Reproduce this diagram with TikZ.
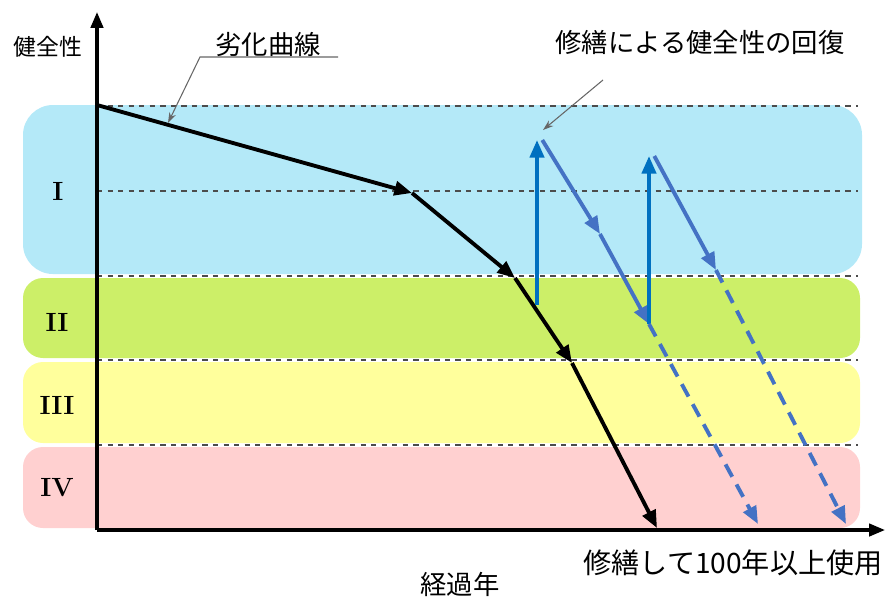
\documentclass[tikz,border=0pt]{standalone}
\usepackage{fontspec}
\newfontfamily\jp{Noto Sans CJK JP}
\usetikzlibrary{arrows.meta}
\definecolor{bandI}{RGB}{180,233,248}
\definecolor{bandII}{RGB}{204,239,104}
\definecolor{bandIII}{RGB}{255,255,156}
\definecolor{bandIV}{RGB}{255,208,208}
\definecolor{upblue}{RGB}{0,112,192}
\definecolor{downblue}{RGB}{68,114,196}

\begin{document}
\begin{tikzpicture}[x=0.02cm,y=-0.02cm,
    band/.style={rounded corners=0.4cm,draw=none},
    level/.style={draw=black!70,dashed,line width=0.6pt},
    axis/.style={line width=1.8pt,-{Triangle[length=9pt,width=7pt]}},
    curve/.style={line width=2.2pt,-{Triangle[length=10pt,width=8pt]}},
    upline/.style={draw=upblue,line width=2.2pt,-{Triangle[length=10pt,width=8pt]}},
    downline/.style={draw=downblue,line width=2.2pt,-{Triangle[length=10pt,width=8pt]}},
    future/.style={downline,dash pattern=on 8pt off 5pt},
    leader/.style={draw=black!60,line width=0.6pt,-{Stealth[length=6pt,width=4pt]}},
    jlabel/.style={font=\jp\fontsize{15}{15}\selectfont,inner sep=0pt},
    roman/.style={font=\bfseries\fontsize{15}{15}\selectfont,inner sep=0pt}]
    \useasboundingbox (0,0) rectangle (885,600);

    % bands
    \fill[band,bandI,rounded corners=0.6cm] (23,105) rectangle (862,274);
    \fill[band,bandII] (23,278) rectangle (860,358);
    \fill[band,bandIII] (23,362) rectangle (860,443);
    \fill[band,bandIV] (23,447) rectangle (860,528);
    \node[roman] (rI) at (58,191) {I};
    \node[roman] (rII) at (57,322) {II};
    \node[roman] (rIII) at (57,405) {III};
    \node[roman] (rIV) at (57,488) {IV};

    % levels
    \foreach \y in {106,191,276,360,445}
        \draw[level] (97,\y) -- (858,\y);

    % axes
    \coordinate (origin) at (97,530);
    \coordinate (yTop) at (97,12);
    \coordinate (xEnd) at (885,530);
    \draw[axis] (origin) -- (yTop);
    \draw[axis] (origin) -- (xEnd);
    \node[jlabel,font=\jp\fontsize{13}{13}\selectfont] (health) at (48,47) {健全性};
    \node[jlabel] (years) at (460,584) {経過年};
    \node[jlabel,font=\jp\fontsize{16}{16}\selectfont] (hundred) at (733,563) {修繕して100年以上使用};

    % degradation curve
    \coordinate (c0) at (97,105);
    \coordinate (c1) at (412,193);
    \coordinate (c2) at (515,278);
    \coordinate (c3) at (572,363);
    \coordinate (c4) at (657,528);
    \draw[curve] (c0) -- (c1);
    \draw[curve] (c1) -- (c2);
    \draw[curve] (c2) -- (c3);
    \draw[curve] (c3) -- (c4);

    % repairs
    \coordinate (r1Bot) at (537,305);
    \coordinate (r1Top) at (537,140);
    \coordinate (r1Mid) at (600,234);
    \coordinate (r2Bot) at (649,324);
    \coordinate (r2Top) at (649,156);
    \coordinate (r2Mid) at (716,270);
    \coordinate (end1) at (758,524);
    \coordinate (end2) at (846,524);
    \draw[upline] (r1Bot) -- (r1Top);
    \draw[downline] ([xshift=3pt]r1Top) -- (r1Mid);
    \draw[downline] (r1Mid) -- (r2Bot);
    \draw[upline] (r2Bot) -- (r2Top);
    \draw[downline] ([xshift=3pt]r2Top) -- (r2Mid);
    \draw[future] (r2Bot) -- (end1);
    \draw[future] (r2Mid) -- (end2);

    % labels
    \node[jlabel] (curveLbl) at (268,44) {劣化曲線};
    \coordinate (ulEnd) at (338,57);
    \coordinate (ulStart) at (200,57);
    \coordinate (curveTip) at (168,123);
    \draw[leader] (ulEnd) -- (ulStart) -- (curveTip);
    \node[jlabel] (repairLbl) at (700,42) {修繕による健全性の回復};
    \coordinate (repFrom) at (603,80);
    \coordinate (repTip) at (543,130);
    \draw[leader] (repFrom) -- (repTip);
\end{tikzpicture}
\end{document}
